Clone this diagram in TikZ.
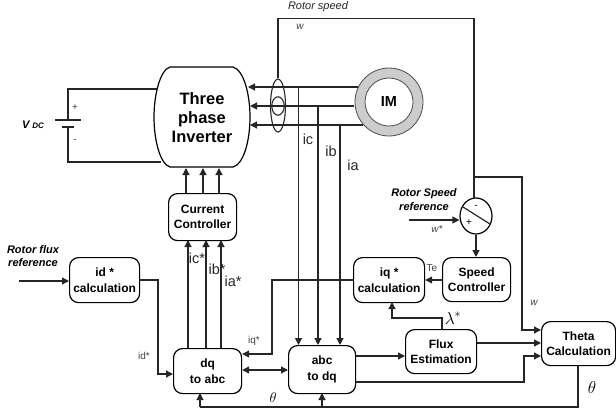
\documentclass[tikz,border=0pt]{standalone}
\usepackage{fontspec}
\setmainfont{Liberation Sans}
\usetikzlibrary{arrows.meta,shapes.geometric}
\tikzset{
  x=1pt,y=-1pt,
  wire/.style={draw=black!85,line width=1.2pt},
  arr/.style={wire,-{Triangle[length=7pt,width=7pt]}},
  darr/.style={wire,{Triangle[length=7pt,width=7pt]}-{Triangle[length=7pt,width=7pt]}},
  blockbox/.style={draw=black,line width=1.2pt,rounded corners=9pt,fill=white,align=center,font=\fontsize{12}{15.5}\selectfont\bfseries,inner sep=0pt,anchor=north west},
  ital/.style={font=\fontsize{11}{13.5}\selectfont\bfseries\itshape,align=center,inner sep=0pt},
  small/.style={font=\fontsize{10}{11}\selectfont,text=black!75,inner sep=0pt},
  med/.style={font=\fontsize{14.5}{15}\selectfont,text=black!85,inner sep=0pt},
}
\begin{document}
\begin{tikzpicture}
\useasboundingbox (0,0) rectangle (616,416);
% inverter
\draw[line width=1.2pt,fill=white] (170,67) -- (233,67) .. controls (244,70) and (250,95) .. (250,117) .. controls (250,140) and (244,164) .. (233,167) -- (170,167) .. controls (160,164) and (154,140) .. (154,117) .. controls (154,95) and (160,70) .. (170,67) -- cycle;
\node[font=\fontsize{16.5}{19}\selectfont\bfseries,align=center,inner sep=0pt] (inv) at (202,118) {Three\\phase\\Inverter};
\coordinate (invTL) at (157,89);
\coordinate (invBL) at (161,162);
% DC source
\coordinate (plateA) at (68,120);
\coordinate (plateB) at (68,127);
\draw[wire] (invTL) -- (68,89) -- (plateA);
\draw[wire] (invBL) -- (68,162) -- (plateB);
\draw[wire] (55,120) -- (81,120);
\draw[wire] (62,127) -- (74,127);
\node[small] (plus) at (75,108) {+};
\node[small] (minus) at (75,141) {-};
\node[inner sep=0pt,font=\bfseries\itshape] (vdc) at (33,125) {\fontsize{11}{12}\selectfont V \fontsize{8}{12}\selectfont DC};
% IM
\node[circle,draw=black!70,fill=black!20,line width=.8pt,minimum size=68pt,inner sep=0pt] (imo) at (389,102) {};
\node[circle,draw=black!70,fill=white,line width=.8pt,minimum size=48pt,inner sep=0pt,font=\fontsize{14.5}{15}\selectfont\bfseries] (im) at (389,102) {IM};
% phase wires
\coordinate (pa) at (358,87);
\coordinate (pb) at (354,106);
\coordinate (pc) at (363,125);
\draw[arr] (pa) -- (248,87);
\draw[arr] (pb) -- (250,106);
\draw[arr] (pc) -- (250,125);
% sensors
\node[ellipse,draw=black!85,line width=1.1pt,minimum width=15pt,minimum height=53pt,inner sep=0pt] (s1) at (278,105.5) {};
\node[ellipse,draw=black!85,line width=1.1pt,minimum width=12.5pt,minimum height=18.5pt,inner sep=0pt] (s2) at (278,106) {};
% blocks
\node[blockbox,minimum width=68pt,minimum height=47pt] (cc) at (168,193) {Current\\Controller};
\node[blockbox,minimum width=70pt,minimum height=45pt] (idc) at (69,257) {id *\\calculation};
\node[blockbox,minimum width=68pt,minimum height=45pt] (dq) at (173,348) {dq\\to abc};
\node[blockbox,minimum width=67pt,minimum height=48pt] (abc) at (288,345) {abc\\to dq};
\node[blockbox,minimum width=71pt,minimum height=45pt] (iqc) at (353,257) {iq *\\calculation};
\node[blockbox,minimum width=68pt,minimum height=44pt] (sc) at (442,257) {Speed\\Controller};
\node[blockbox,minimum width=71pt,minimum height=44pt] (fe) at (405,329) {Flux\\Estimation};
\node[blockbox,minimum width=74pt,minimum height=44pt] (th) at (541,321) {Theta\\Calculation};
% summer
\node[ellipse,draw=black,line width=1.2pt,minimum width=32pt,minimum height=36pt,inner sep=0pt] (sum) at (476,216) {};
\draw[wire] (463,207) -- (490,224);
\node[small,text=black] (sm) at (476,207) {-};
\node[small,text=black] (sp) at (469,223) {+};
% connectors
\draw[wire] (s1.north) -- (278,18.5) -- (474,18.5) -- (474,199);
\draw[arr] (474,177) -- (522,177) -- (522,330) -- (th.west |- 0,330);
\coordinate (wstart) at (409,220);
\draw[arr] (wstart) -- (sum.west |- wstart);
\draw[arr] (sum.south) -- (sc.north -| sum.south);
\draw[arr] (sc.west |- 0,280) -- (iqc.east |- 0,280);
\draw[arr] (iqc.west |- 0,280) -- (272,280) -- (272,354) -- (dq.east |- 0,354);
\draw[arr] (fe.north -| 442,0) -- (442,318) -- (392,318) -- (392,302);
\draw[arr] (fe.east |- 0,343) -- (th.west |- 0,343);
\draw[arr] (abc.east |- 0,356) -- (fe.west |- 0,356);
\draw[arr] (abc.east |- 0,382) -- (524,382) -- (524,356) -- (th.west |- 0,356);
\draw[wire] (578,365) -- (578,407) -- (200,407);
\draw[arr] (200,407) -- (200,393);
\draw[arr] (322,407) -- (322,393);
\draw[darr] (dq.east |- 0,370) -- (abc.west |- 0,370);
\coordinate (influx) at (19,281);
\draw[arr] (influx) -- (idc.west |- 0,281);
\draw[arr] (idc.east |- 0,280) -- (158,280) -- (158,374) -- (dq.west |- 0,374);
\draw[arr] (188,348) -- (188,240);
\draw[arr] (206,348) -- (206,240);
\draw[arr] (221,348) -- (221,240);
\draw[arr] (186,193) -- (186,168);
\draw[arr] (203,193) -- (203,168);
\draw[arr] (219,193) -- (219,168);
\draw[arr] (298.5,87) -- (298.5,345);
\draw[arr] (318,106) -- (318,345);
\draw[arr] (340,125) -- (340,345);
% labels
\node[font=\fontsize{11}{13}\selectfont\itshape,text=black!85,inner sep=0pt] (rs) at (318,7) {Rotor speed};
\node[small,font=\fontsize{10}{11}\selectfont\itshape] (w1) at (300,27) {w};
\node[small,font=\fontsize{10}{11}\selectfont\itshape] (w2) at (534,303) {w};
\node[small,font=\fontsize{10}{11}\selectfont\itshape] (w3) at (437,229) {w*};
\node[ital] (rsr) at (424,199.5) {Rotor Speed\\reference};
\node[ital] (rfr) at (33,256) {Rotor flux\\reference};
\node[med] (ic) at (308,139) {ic};
\node[med] (ib) at (331,151) {ib};
\node[med] (ia) at (353,165) {ia};
\node[med] (icS) at (197,258) {ic*};
\node[med] (ibS) at (217,269) {ib*};
\node[med] (iaS) at (233,281) {ia*};
\node[small] (iqS) at (254,341) {iq*};
\node[small] (idS) at (144,356) {id*};
\node[small] (te) at (432,268) {Te};
\node[inner sep=0pt,font=\fontsize{18}{20}\selectfont] (lam) at (453,318) {$\lambda^*$};
\node[inner sep=0pt,font=\fontsize{18}{20}\selectfont] (t1) at (592,387) {$\theta$};
\node[inner sep=0pt,font=\fontsize{15}{17}\selectfont] (t2) at (273,397) {$\theta$};
\end{tikzpicture}
\end{document}
